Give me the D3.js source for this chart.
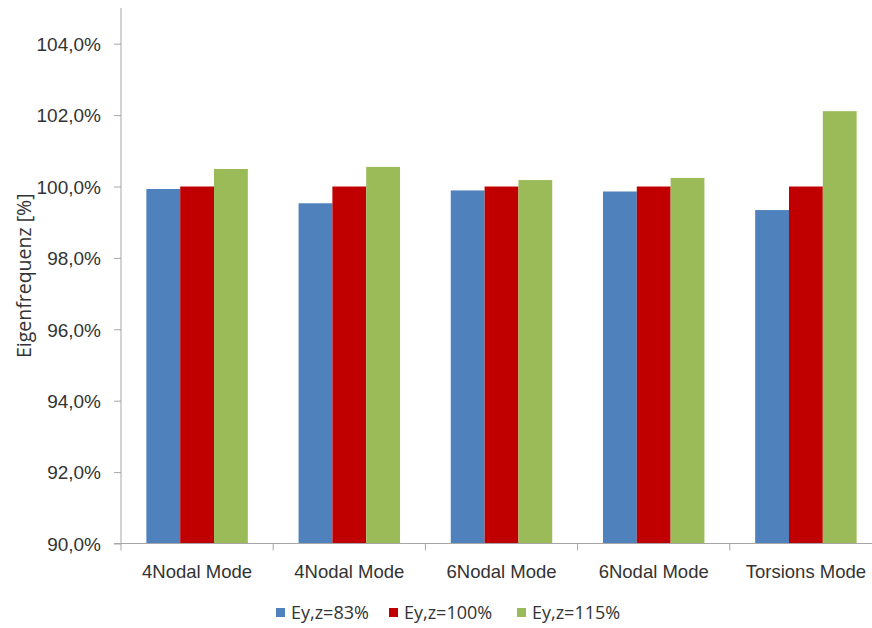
<!DOCTYPE html>
<html>
<head>
<meta charset="utf-8">
<script src="https://cdn.jsdelivr.net/npm/d3@7"></script>
<style>
  html, body { margin: 0; padding: 0; background: #fff; }
  svg { display: block; font-family: "Open Sans", "Noto Sans", sans-serif; }
</style>
</head>
<body>
<svg id="chart" width="872" height="628"></svg>
<script>
// Eigenfrequencies relative to the nominal stiffness (percent)
const categories = ["4Nodal Mode", "4Nodal Mode", "6Nodal Mode", "6Nodal Mode", "Torsions Mode"];
const seriesNames = ["Ey,z=83%", "Ey,z=100%", "Ey,z=115%"];
const ey83  = [99.93, 99.53, 99.89, 99.86, 99.34];
const ey100 = [100.0, 100.0, 100.0, 100.0, 100.0];
const ey115 = [100.49, 100.55, 100.18, 100.24, 102.11];
const yTicks = [90, 92, 94, 96, 98, 100, 102, 104];
const colors = ["#4F81BD", "#C00000", "#9BBB59"];

const seriesValues = [ey83, ey100, ey115];

(function draw() {
  const svg = d3.select("#chart");
  const plotLeft = 121, plotTop = 8, plotBottom = 543.5;
  const step = 152.2;
  const plotRight = plotLeft + step * categories.length;
  const textColor = "#333333";
  const axisColor = "#A6A6A6";

  const x = d3.scaleBand()
    .domain(d3.range(categories.length))
    .range([plotLeft, plotRight])
    .paddingInner(0).paddingOuter(0);

  // three bars per category, gap = 1.5 bar widths
  const xInner = d3.scaleBand()
    .domain(d3.range(seriesNames.length))
    .range([0, x.bandwidth()])
    .paddingOuter(0.75).paddingInner(0);

  const y = d3.scaleLinear().domain([90, 105]).range([plotBottom, plotTop]);

  // bars
  seriesValues.forEach((vals, si) => {
    svg.append("g").selectAll("rect")
      .data(vals)
      .join("rect")
      .attr("x", (d, i) => x(i) + xInner(si))
      .attr("width", xInner.bandwidth())
      .attr("y", d => y(d))
      .attr("height", d => y(90) - y(d))
      .attr("fill", colors[si]);
  });

  // y axis
  const yAxis = svg.append("g")
    .attr("transform", `translate(${plotLeft},0)`)
    .call(d3.axisLeft(y).tickValues(yTicks).tickSize(7).tickSizeOuter(0)
      .tickFormat(d => d.toFixed(1).replace(".", ",") + "%"));
  yAxis.select(".domain").attr("stroke", axisColor).attr("d", `M0,${plotTop}V${plotBottom}`);
  yAxis.selectAll(".tick line").attr("stroke", axisColor);
  yAxis.selectAll(".tick text")
    .attr("x", -20)
    .attr("dy", "0.36em")
    .attr("fill", textColor)
    .style("font-size", "19px");

  // x axis
  const xAxis = svg.append("g")
    .attr("transform", `translate(0,${plotBottom})`)
    .call(d3.axisBottom(x).tickSize(0).tickFormat(i => categories[i]));
  xAxis.select(".domain").attr("stroke", axisColor).attr("d", `M${plotLeft - 7},0H${plotRight}`);
  xAxis.selectAll(".tick text")
    .attr("y", 34)
    .attr("dy", 0)
    .attr("fill", textColor)
    .style("font-size", "18.5px");
  // category separators
  svg.append("g").selectAll("line")
    .data(d3.range(categories.length + 1))
    .join("line")
    .attr("x1", i => plotLeft + i * step).attr("x2", i => plotLeft + i * step)
    .attr("y1", plotBottom).attr("y2", plotBottom + 7)
    .attr("stroke", axisColor);

  // y axis title
  svg.append("text")
    .attr("transform", `translate(31,${(plotTop + plotBottom) / 2}) rotate(-90)`)
    .attr("text-anchor", "middle")
    .attr("fill", textColor)
    .style("font-size", "19.5px")
    .text("Eigenfrequenz [%]");

  // legend
  const legendX = [276, 389, 517];
  const legend = svg.append("g");
  seriesNames.forEach((name, i) => {
    legend.append("rect")
      .attr("x", legendX[i]).attr("y", 608)
      .attr("width", 9).attr("height", 9)
      .attr("fill", colors[i]);
    legend.append("text")
      .attr("x", legendX[i] + 15).attr("y", 618.5)
      .attr("fill", textColor)
      .style("font-size", "18px")
      .text(name);
  });
})();
</script>
</body>
</html>
